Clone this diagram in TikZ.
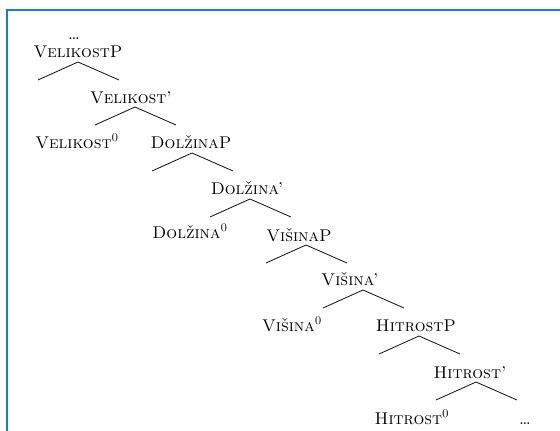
\documentclass[tikz,border=0pt]{standalone}
\begin{document}
\begin{tikzpicture}[x=1pt,y=-1pt,
  lbl/.style={anchor=base,inner sep=0pt,font=\fontsize{17}{20}\selectfont\scshape},
  branch/.style={draw=black!90,line width=0.85pt},
  frameline/.style={draw={rgb,255:red,20;green,125;blue,215},line width=2pt}]
\useasboundingbox (0,0) rectangle (560,431);
\draw[frameline] (6.5,431) -- (6.5,10) -- (560,10);
% labels
\node[lbl] (top) at (74,39) {\dots};
\node[lbl] (vp) at (78,57) {VelikostP};
\node[lbl] (vb) at (131,103) {Velikost'};
\node[lbl] (v0) at (77,148) {Velikost\textsuperscript{0}};
\node[lbl] (dp) at (191,148) {DolžinaP};
\node[lbl] (db) at (247,194) {Dolžina'};
\node[lbl] (d0) at (190,238) {Dolžina\textsuperscript{0}};
\node[lbl] (wp) at (299,241) {VišinaP};
\node[lbl] (wb) at (350,285) {Višina'};
\node[lbl] (w0) at (292,331) {Višina\textsuperscript{0}};
\node[lbl] (hp) at (416,331) {HitrostP};
\node[lbl] (hb) at (470,378) {Hitrost'};
\node[lbl] (h0) at (412,424) {Hitrost\textsuperscript{0}};
\node[lbl] (end) at (525,424) {\dots};
% branch points
\foreach \n/\x/\y in {1/78/62,2/135/107,3/192/153,4/250/199,5/306/245,6/363/290,7/419/336,8/476/382}{
  \coordinate (a\n) at (\x,\y);
  \coordinate (l\n) at (\x-40,\y+18);
  \coordinate (r\n) at (\x+41,\y+18);
  \draw[branch] (l\n) -- (a\n) -- (r\n);
}
\end{tikzpicture}
\end{document}
